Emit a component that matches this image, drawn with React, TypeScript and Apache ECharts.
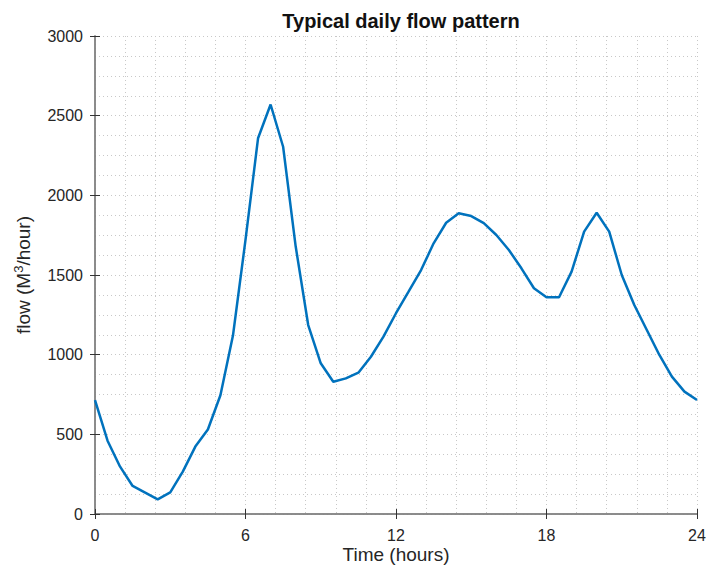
import React, { useEffect, useRef } from "react";
import * as echarts from "echarts";

const hours = [
  0, 0.5, 1, 1.5, 2, 2.5, 3, 3.5, 4, 4.5, 5, 5.5, 6, 6.5, 7, 7.5, 8, 8.5, 9, 9.5,
  10, 10.5, 11, 11.5, 12, 12.5, 13, 13.5, 14, 14.5, 15, 15.5, 16, 16.5, 17, 17.5,
  18, 18.5, 19, 19.5, 20, 20.5, 21, 21.5, 22, 22.5, 23, 23.5, 24,
];
const flow = [
  715, 460, 297, 176, 134, 92, 136, 266, 423, 530, 745, 1120, 1720, 2358, 2570,
  2305, 1680, 1186, 946, 830, 851, 887, 987, 1113, 1260, 1395, 1531, 1699, 1828,
  1887, 1870, 1826, 1751, 1657, 1542, 1417, 1360, 1360, 1521, 1772, 1891, 1772,
  1500, 1312, 1155, 998, 862, 768, 715,
];
const xTicks = [0, 6, 12, 18, 24];
const yTicks = [0, 500, 1000, 1500, 2000, 2500, 3000];

const FONT = "'Liberation Sans', Arial, Helvetica, sans-serif";
const AXIS = "#858585";
const GRID = "#c8c8c8";
const LABEL = "#262626";

export default function App() {
  const ref = useRef<HTMLDivElement>(null);
  useEffect(() => {
    if (!ref.current) return;
    const chart = echarts.init(ref.current, undefined, { renderer: "svg" });
    const points = hours.map((h, i) => [h, flow[i]]);
    const common = {
      axisLine: { show: true, lineStyle: { color: AXIS, width: 1.5 } },
      axisTick: { show: true, inside: true, length: 5, lineStyle: { color: "#333", width: 1 } },
    };
    chart.setOption({
      animation: false,
      backgroundColor: "#ffffff",
      textStyle: { fontFamily: FONT },
      title: {
        text: "Typical daily flow pattern",
        left: 396,
        textAlign: "center",
        top: 6,
        textStyle: { fontFamily: FONT, fontSize: 20, fontWeight: "bold", color: "#111" },
      },
      grid: {
        left: 95,
        right: 9,
        top: 36,
        bottom: 59,
        containLabel: false,
        outerBoundsMode: "none",
      },
      xAxis: [
        {
          type: "value",
          min: xTicks[0],
          max: xTicks[xTicks.length - 1],
          interval: 6,
          position: "bottom",
          ...common,
          axisLabel: { color: LABEL, fontSize: 16, margin: 13, fontFamily: FONT },
          splitLine: { show: true, lineStyle: { color: GRID, type: [1, 3], width: 1 } },
          minorTick: { show: false, splitNumber: 5 },
          minorSplitLine: { show: true, lineStyle: { color: GRID, type: [1, 3], width: 1 } },
          name: "Time (hours)",
          nameLocation: "middle",
          nameGap: 31,
          nameMoveOverlap: false,
          nameTextStyle: { fontSize: 19, color: LABEL, fontFamily: FONT, verticalAlign: "top" },
        },
        {
          type: "value",
          min: 0,
          max: 24,
          interval: 6,
          position: "top",
          ...common,
          axisLabel: { show: false },
          splitLine: { show: false },
        },
      ],
      yAxis: [
        {
          type: "value",
          min: yTicks[0],
          max: yTicks[yTicks.length - 1],
          interval: 500,
          position: "left",
          ...common,
          axisLabel: {
            color: LABEL,
            fontSize: 16,
            margin: 12,
            fontFamily: FONT,
            formatter: (v: number) => String(v),
          },
          splitLine: { show: true, lineStyle: { color: GRID, type: [1, 3], width: 1 } },
          minorTick: { show: false, splitNumber: 4 },
          minorSplitLine: { show: true, lineStyle: { color: GRID, type: [1, 3], width: 1 } },
          name: "flow (M{sup|3}/hour)",
          nameLocation: "middle",
          nameRotate: 90,
          nameGap: 61,
          nameMoveOverlap: false,
          nameTextStyle: {
            fontSize: 19,
            color: LABEL,
            fontFamily: FONT,
            rich: {
              sup: { fontSize: 13, verticalAlign: "top", padding: [0, 0, 9, 0], color: LABEL, fontFamily: FONT },
            },
          },
        },
        {
          type: "value",
          min: 0,
          max: 3000,
          interval: 500,
          position: "right",
          ...common,
          axisLabel: { show: false },
          splitLine: { show: false },
        },
      ],
      series: [
        {
          type: "line",
          data: points,
          xAxisIndex: 0,
          yAxisIndex: 0,
          showSymbol: false,
          lineStyle: { color: "#0072BD", width: 2.5 },
          itemStyle: { color: "#0072BD" },
        },
      ],
    });
    return () => chart.dispose();
  }, []);
  return (
    <div
      ref={ref}
      style={{ position: "fixed", left: 0, top: 0, width: 706, height: 573 }}
    />
  );
}
